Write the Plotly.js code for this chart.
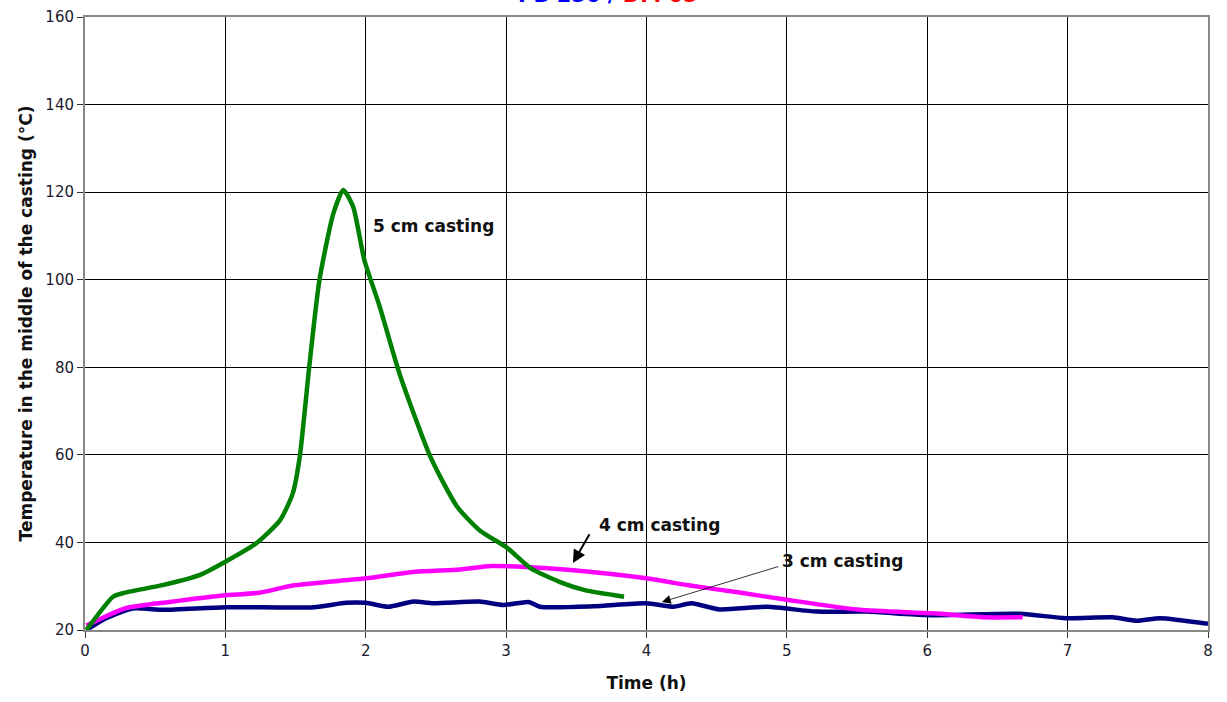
<!DOCTYPE html>
<html>
<head>
<meta charset="utf-8">
<script src="https://cdn.plot.ly/plotly-3.0.1.min.js"></script>
<style>html,body{margin:0;padding:0;background:#fff;}#chart{width:1227px;height:702px;}</style>
</head>
<body>
<div id="chart"></div>
<script>
// 5 cm casting
const t5 = [0.01,0.2,0.27,0.56,0.82,1.0,1.22,1.39,1.48,1.53,1.60,1.67,1.77,1.84,1.91,1.99,2.10,2.24,2.46,2.65,2.81,3.01,3.17,3.38,3.56,3.84];
const T5 = [20,27.6,28.4,30.3,32.6,35.6,39.8,45.1,51.2,59.6,80.9,99.9,115.2,120.5,116.7,104.5,93.8,78.6,59.6,48.2,42.8,38.7,34.2,31.0,29.1,27.6];
// 4 cm casting
const t4 = [0.01,0.28,0.60,0.98,1.24,1.49,2.0,2.35,2.67,2.89,3.14,3.46,4.0,4.30,4.65,5.0,5.52,6.04,6.40,6.68];
const T4 = [21,24.9,26.4,27.9,28.5,30.2,31.8,33.3,33.8,34.6,34.4,33.7,31.8,30.2,28.6,26.9,24.6,23.8,22.9,22.9];
// 3 cm casting
const t3 = [0.01,0.15,0.34,0.56,1.0,1.63,1.86,2.0,2.16,2.34,2.48,2.81,2.98,3.16,3.24,3.62,4.0,4.19,4.32,4.52,4.86,5.21,5.57,6.0,6.66,6.99,7.32,7.49,7.66,8.0];
const T3 = [20,22.7,24.9,24.6,25.2,25.2,26.2,26.2,25.3,26.5,26.1,26.5,25.7,26.4,25.3,25.4,26.1,25.3,26.1,24.7,25.3,24.2,24.2,23.4,23.7,22.7,22.9,22.1,22.7,21.4];

const xTicks = [0,1,2,3,4,5,6,7,8];
const yTicks = [20,40,60,80,100,120,140,160];

const font = "'DejaVu Sans', Arial, sans-serif";

const traces = [
  {x: t3, y: T3, mode: 'lines', line: {color: '#000080', width: 4.5, shape: 'spline', smoothing: 0.6}, name: '3 cm'},
  {x: t4, y: T4, mode: 'lines', line: {color: '#ff00ff', width: 4.5, shape: 'spline', smoothing: 0.6}, name: '4 cm'},
  {x: t5, y: T5, mode: 'lines', line: {color: '#008000', width: 4.5, shape: 'spline', smoothing: 0.6}, name: '5 cm'}
];

const layout = {
  width: 1227, height: 702,
  margin: {l: 85, r: 19, t: 17, b: 72},
  paper_bgcolor: '#fff', plot_bgcolor: '#fff',
  showlegend: false,
  font: {family: font, color: '#222'},
  xaxis: {
    range: [0, 8], tickvals: xTicks, ticks: 'outside', ticklen: 6, tickcolor: '#333',
    showgrid: true, gridcolor: '#000', gridwidth: 1, zeroline: false,
    showline: true, linecolor: '#888', linewidth: 2, mirror: true,
    tickfont: {family: font, size: 15, color: '#1a1a2e'},
    title: {text: '<b>Time (h)</b>', font: {family: font, size: 17, color: '#111'}, standoff: 18}
  },
  yaxis: {
    range: [20, 160], tickvals: yTicks, ticks: 'outside', ticklen: 6, tickcolor: '#333',
    showgrid: true, gridcolor: '#000', gridwidth: 1, zeroline: false,
    showline: true, linecolor: '#888', linewidth: 2, mirror: true,
    tickfont: {family: font, size: 15, color: '#1a1a2e'},
    title: {text: '<b>Temperature in the middle of the casting (°C)</b>', font: {family: font, size: 17, color: '#111'}, standoff: 8}
  },
  annotations: [
    {xref: 'paper', yref: 'paper', x: 0.466, y: 1, yanchor: 'bottom', yshift: 8, showarrow: false,
     text: '<b><span style="color:#0000ff">PB 250 / </span><span style="color:#ff0000">DM 05</span></b>',
     font: {family: font, size: 21}},
    {x: 2.04, y: 112.3, xanchor: 'left', showarrow: false, text: '<b>5 cm casting</b>',
     font: {family: font, size: 17, color: '#111'}},
    {x: 3.65, y: 44, xanchor: 'left', showarrow: false, text: '<b>4 cm casting</b>',
     font: {family: font, size: 17, color: '#111'}},
    {x: 4.95, y: 35.7, xanchor: 'left', showarrow: false, text: '<b>3 cm casting</b>',
     font: {family: font, size: 17, color: '#111'}},
    {x: 3.476, y: 35.3, ax: 3.60, ay: 42.2, axref: 'x', ayref: 'y', text: '', showarrow: true,
     arrowhead: 2, arrowsize: 1.3, arrowwidth: 2, arrowcolor: '#000'},
    {x: 4.11, y: 26.4, ax: 4.95, ay: 34.6, axref: 'x', ayref: 'y', text: '', showarrow: true,
     arrowhead: 2, arrowsize: 2.2, arrowwidth: 0.8, arrowcolor: '#000'}
  ]
};

Plotly.newPlot('chart', traces, layout, {staticPlot: true});
</script>
</body>
</html>
